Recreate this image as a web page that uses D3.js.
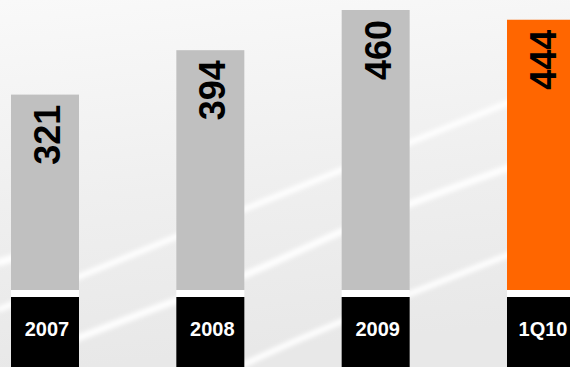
<!DOCTYPE html>
<html>
<head>
<meta charset="utf-8">
<script src="https://cdn.jsdelivr.net/npm/d3@7"></script>
<style>
  html, body { margin: 0; padding: 0; background: #fff; }
  svg { display: block; }
</style>
</head>
<body>
<svg id="chart" width="570" height="367"></svg>
<script>
// Periods and their values
const categories = ["2007", "2008", "2009", "1Q10"];
const values = [321, 394, 460, 444];
const barColors = ["#c0c0c0", "#c0c0c0", "#c0c0c0", "#ff6600"];

const W = 570, H = 367;
const svg = d3.select("#chart");
const defs = svg.append("defs");

// Light grey backdrop, brighter toward the top
const grad = defs.append("linearGradient")
  .attr("id", "bg").attr("x1", 0).attr("y1", 0).attr("x2", 0.15).attr("y2", 1);
grad.append("stop").attr("offset", "0%").attr("stop-color", "#f9f9f9");
grad.append("stop").attr("offset", "55%").attr("stop-color", "#efefef");
grad.append("stop").attr("offset", "100%").attr("stop-color", "#e8e8e8");
svg.append("rect").attr("width", W).attr("height", H).attr("fill", "url(#bg)");

// Soft diagonal highlights across the backdrop
defs.append("filter").attr("id", "soft")
  .attr("x", "-10%").attr("y", "-50%").attr("width", "120%").attr("height", "200%")
  .append("feGaussianBlur").attr("stdDeviation", 2);

const streaks = [
  { pts: [[0, 309], [78, 277], [175, 237], [342, 170], [507, 103], [570, 78]], w: 6 },
  { pts: [[60, 345], [175, 300], [245, 277], [342, 230], [411, 203], [507, 168], [570, 146]], w: 7 },
  { pts: [[200, 385], [300, 338], [411, 293], [507, 255], [570, 232]], w: 6 },
  { pts: [[0, 262], [40, 250]], w: 8 }
];
const line = d3.line().curve(d3.curveBasis);
svg.append("g").attr("filter", "url(#soft)")
  .selectAll("path").data(streaks).join("path")
  .attr("d", d => line(d.pts))
  .attr("fill", "none")
  .attr("stroke", "#ffffff")
  .attr("stroke-opacity", 0.95)
  .attr("stroke-width", d => d.w)
  .attr("stroke-linecap", "round");

// Scales
const x = d3.scaleBand()
  .domain(categories)
  .range([11, 575])
  .paddingInner(0.5887)
  .paddingOuter(0);

const baseY = 290;
const y = d3.scaleLinear().domain([0, 460]).range([baseY, 10]);

const data = categories.map((c, i) => ({ cat: c, value: values[i], color: barColors[i] }));

const g = svg.append("g");

// Bars
g.selectAll("rect.bar").data(data).join("rect")
  .attr("class", "bar")
  .attr("x", d => x(d.cat))
  .attr("y", d => y(d.value))
  .attr("width", x.bandwidth())
  .attr("height", d => baseY - y(d.value))
  .attr("fill", d => d.color);

// White separator strip under each bar
g.selectAll("rect.gap").data(data).join("rect")
  .attr("class", "gap")
  .attr("x", d => x(d.cat))
  .attr("y", baseY)
  .attr("width", x.bandwidth())
  .attr("height", 7)
  .attr("fill", "#ffffff");

// Black category boxes
g.selectAll("rect.cat").data(data).join("rect")
  .attr("class", "cat")
  .attr("x", d => x(d.cat))
  .attr("y", baseY + 7)
  .attr("width", x.bandwidth())
  .attr("height", H - baseY - 7)
  .attr("fill", "#000000");

// Category labels
g.selectAll("text.cat").data(data).join("text")
  .attr("class", "cat")
  .attr("x", d => x(d.cat) + x.bandwidth() / 2 + 2)
  .attr("y", 336)
  .attr("text-anchor", "middle")
  .attr("fill", "#ffffff")
  .style("font-family", "'Liberation Sans', Arial, sans-serif")
  .style("font-weight", "bold")
  .style("font-size", "20px")
  .text(d => d.cat);

// Vertical value labels inside the bars
g.selectAll("text.val").data(data).join("text")
  .attr("class", "val")
  .attr("transform", d => `translate(${x(d.cat) + x.bandwidth() / 2 + 15},${y(d.value) + 10}) rotate(-90)`)
  .attr("text-anchor", "end")
  .attr("fill", "#000000")
  .style("font-family", "'Liberation Sans', Arial, sans-serif")
  .style("font-weight", "bold")
  .style("font-size", "36px")
  .text(d => d.value);
</script>
</body>
</html>
